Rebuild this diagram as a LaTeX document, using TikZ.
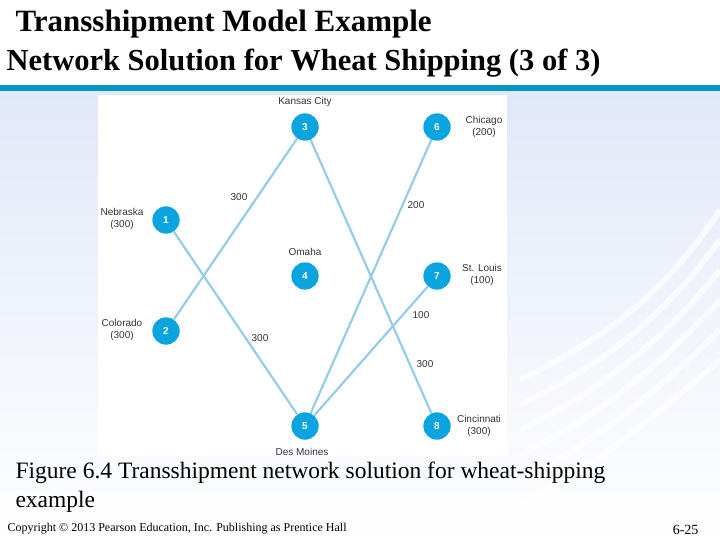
\documentclass[tikz,border=0pt]{standalone}
\usepackage{fontspec}
\setmainfont{Liberation Serif}
\newfontfamily\lsans{Liberation Sans}
\begin{document}
\begin{tikzpicture}[x=1pt,y=-1pt,
  nd/.style={circle,fill=nodeblue,text=white,minimum size=27pt,inner sep=0pt,font=\lsans\fontsize{10}{11}\selectfont\bfseries},
  lbl/.style={font=\lsans\fontsize{10}{11.5}\selectfont,align=center,text=black!80},
  edge/.style={draw=edgeblue,line width=2.2pt}]
\definecolor{nodeblue}{RGB}{10,165,225}
\definecolor{edgeblue}{RGB}{150,205,230}
\definecolor{barblue}{RGB}{0,150,200}
\definecolor{bgblue}{RGB}{225,232,248}
\useasboundingbox (0,0) rectangle (720,540);
\shade[top color=bgblue,bottom color=white] (0,90) rectangle (720,540);
\fill[white] (0,0) rectangle (720,85);
\fill[barblue] (0,85) rectangle (720,91);
\foreach \i in {0,...,5}{
  \draw[white,line width=6pt,opacity=0.7] (520,{380+\i*25}) .. controls (600,{340+\i*25}) and (660,{300+\i*22}) .. (720,{210+\i*30});
}
\fill[white] (98,95) rectangle (507,456);
\node[font=\bfseries\fontsize{31}{33}\selectfont,anchor=west] (t1) at (12,24) {Transshipment Model Example};
\node[font=\bfseries\fontsize{30.5}{33}\selectfont,anchor=west] (t2) at (3,63) {Network Solution for Wheat Shipping (3 of 3)};
\node[nd] (n3) at (305,127) {3};
\node[nd] (n6) at (437,127) {6};
\node[nd] (n1) at (166,220) {1};
\node[nd] (n4) at (305,276) {4};
\node[nd] (n7) at (437,276) {7};
\node[nd] (n2) at (166,331) {2};
\node[nd] (n5) at (305,426) {5};
\node[nd] (n8) at (437,426) {8};
\path[edge] (n3) -- (n2);
\path[edge] (n1) -- (n5);
\path[edge] (n3) -- (n8);
\path[edge] (n5) -- (n6);
\path[edge] (n5) -- (n7);
\foreach \n/\t in {n3/3,n6/6,n1/1,n4/4,n7/7,n2/2,n5/5,n8/8}{\node[nd] at (\n) {\t};}
\node[lbl] (lk) at (305,102) {Kansas City};
\node[lbl] (lc) at (484,127) {Chicago\\(200)};
\node[lbl] (lne) at (122,219) {Nebraska\\(300)};
\node[lbl] (lo) at (305,252) {Omaha};
\node[lbl] (ls) at (482,275) {St. Louis\\(100)};
\node[lbl] (lco) at (122,330) {Colorado\\(300)};
\node[lbl] (ld) at (302,452) {Des Moines};
\node[lbl] (lci) at (479,426) {Cincinnati\\(300)};
\node[lbl] (e1) at (239,197) {300};
\node[lbl] (e2) at (260,338) {300};
\node[lbl] (e3) at (425,364) {300};
\node[lbl] (e4) at (416,205) {200};
\node[lbl] (e5) at (421,315) {100};
\node[font=\fontsize{23.5}{29}\selectfont,anchor=north west,align=left] (cap) at (12,458) {Figure 6.4 Transshipment network solution for wheat-shipping\\example};
\node[font=\fontsize{12}{14}\selectfont,anchor=west] (cp) at (4,529) {Copyright \textcopyright{} 2013 Pearson Education, Inc. Publishing as Prentice Hall};
\node[font=\fontsize{14}{16}\selectfont,anchor=east] (pg) at (702,530) {6-25};
\end{tikzpicture}
\end{document}
